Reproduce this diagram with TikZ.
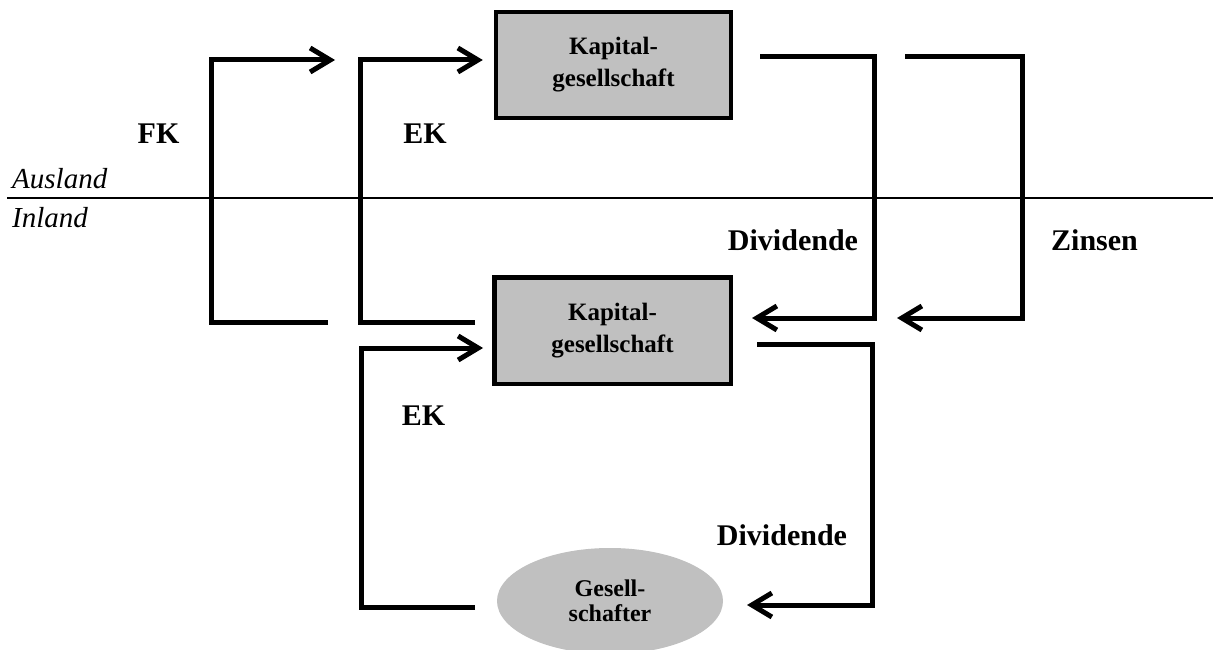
\documentclass[tikz,border=0pt]{standalone}
\usepackage{fontspec}
\setmainfont{Liberation Serif}
\usetikzlibrary{arrows.meta,shapes.geometric}
\definecolor{boxgray}{HTML}{C0C0C0}
\begin{document}
\begin{tikzpicture}[x=1pt,y=-1pt,
  flow/.style={line width=5pt,line join=miter,-{Straight Barb[length=20pt,width=24pt]}},
  kgbox/.style={draw,line width=4.5pt,fill=boxgray,inner sep=0pt,align=center,
    font=\fontsize{25}{32}\selectfont\bfseries},
  shbox/.style={ellipse,fill=boxgray,inner sep=0pt,minimum width=226pt,minimum height=106pt,
    align=center,font=\fontsize{24}{25}\selectfont\bfseries},
  lbl/.style={inner sep=0pt,anchor=base,font=\fontsize{30}{36}\selectfont\bfseries},
  side/.style={inner sep=0pt,anchor=base west,font=\fontsize{29}{34}\selectfont\itshape}]
\useasboundingbox (0,0) rectangle (1213,650);
\fill[white] (0,0) rectangle (1213,650);
% divider
\coordinate (dl) at (7,198);
\coordinate (dr) at (1213,198);
\draw[line width=1.8pt] (dl) -- (dr);
\node[side] (aus) at (12,188) {Ausland};
\node[side] (inl) at (12,227) {Inland};
% nodes
\node[kgbox,minimum width=235pt,minimum height=106pt] (kgA) at (613.5,65) {Kapital-\\gesellschaft};
\node[kgbox,minimum width=236.5pt,minimum height=106.5pt] (kgI) at (612.5,330.5) {Kapital-\\gesellschaft};
\node[shbox] (gs) at (610,601) {Gesell-\\schafter};
% FK loop
\coordinate (fk0) at (328,322);
\coordinate (fk1) at (211,322);
\coordinate (fk2) at (211,60);
\coordinate (fk3) at (335,60);
\draw[flow] (fk0) -- (fk1) -- (fk2) -- (fk3);
% EK upper loop
\coordinate (ek0) at (475,322);
\coordinate (ek1) at (360,322);
\coordinate (ek2) at (360,60);
\coordinate (ek3) at (kgA.west |- 0,60);
\draw[flow] (ek0) -- (ek1) -- (ek2) -- ([xshift=-11pt]ek3);
% Dividende upper
\coordinate (dv0) at (760,57);
\coordinate (dv1) at (874,57);
\coordinate (dv2) at (874,318);
\coordinate (dv3) at (752,318);
\draw[flow] (dv0) -- (dv1) -- (dv2) -- (dv3);
% Zinsen
\coordinate (zi0) at (905,57);
\coordinate (zi1) at (1022,57);
\coordinate (zi2) at (1022,318);
\coordinate (zi3) at (897,318);
\draw[flow] (zi0) -- (zi1) -- (zi2) -- (zi3);
% EK lower loop
\coordinate (el0) at (475,607);
\coordinate (el1) at (361,607);
\coordinate (el2) at (361,348);
\coordinate (el3) at (483,348);
\draw[flow] (el0) -- (el1) -- (el2) -- (el3);
% Dividende lower
\coordinate (dl0) at (757,344);
\coordinate (dl1) at (872,344);
\coordinate (dl2) at (872,605);
\coordinate (dl3) at (747,605);
\draw[flow] (dl0) -- (dl1) -- (dl2) -- (dl3);
% labels
\node[lbl] (lfk) at (158.5,143) {FK};
\node[lbl] (lek1) at (425,143) {EK};
\node[lbl] (ldv1) at (793,250) {Dividende};
\node[lbl] (lzi) at (1094.5,250) {Zinsen};
\node[lbl] (lek2) at (423.5,425) {EK};
\node[lbl] (ldv2) at (782,545) {Dividende};
\end{tikzpicture}
\end{document}
